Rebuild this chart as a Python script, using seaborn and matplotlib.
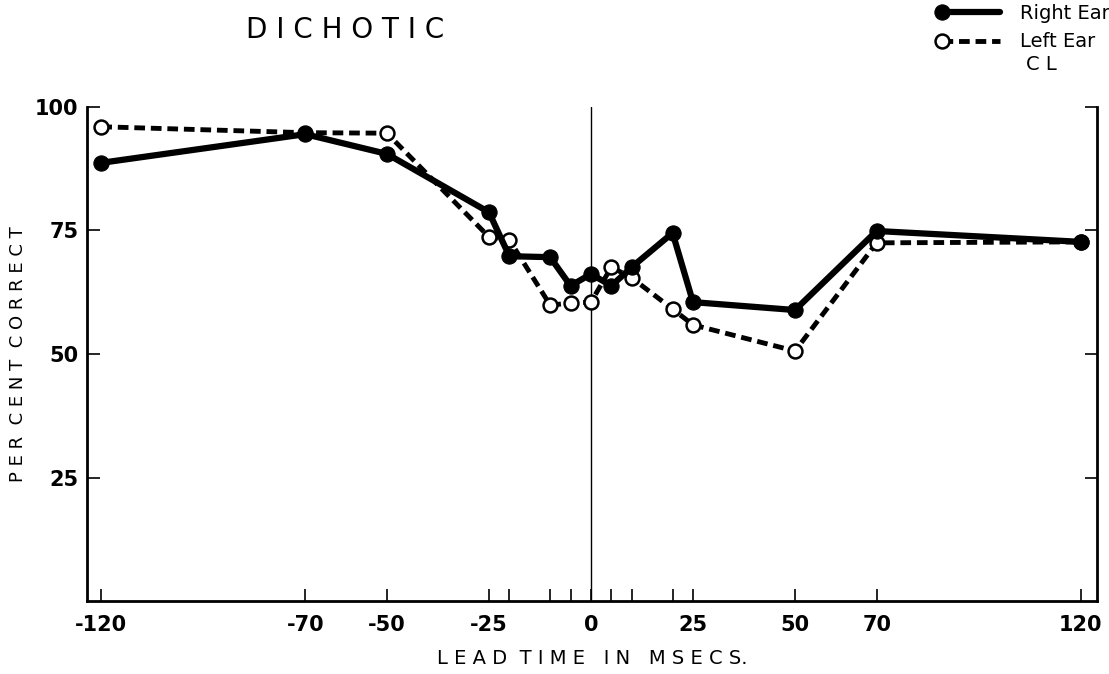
import pandas as pd
import seaborn as sns
import matplotlib.pyplot as plt
from matplotlib.lines import Line2D
from matplotlib.legend_handler import HandlerLine2D

# data
lead_time = [-120, -70, -50, -25, -20, -10, -5, 0, 5, 10, 20, 25, 50, 70, 120]
right_ear = [88.7, 94.5, 90.5, 78.7, 69.8, 69.6, 63.8, 66.2, 63.8, 67.6, 74.5, 60.5, 58.9, 74.9, 72.7]
left_ear = [96.0, 94.8, 94.7, 73.7, 73.1, 59.9, 60.3, 60.5, 67.6, 65.4, 59.1, 55.9, 50.6, 72.5, 72.7]

major_ticks = [-120, -70, -50, -25, 0, 25, 50, 70, 120]
minor_ticks = [-20, -10, -5, 5, 10, 20]
y_ticks = [25, 50, 75, 100]

df = pd.DataFrame({"lead": lead_time, "Right Ear": right_ear, "Left Ear": left_ear})


# legend handle with the marker at the left end of the line, as in the original
class LeftMarker(HandlerLine2D):
    def create_artists(self, *args, **kwargs):
        artists = super().create_artists(*args, **kwargs)
        for a in artists:
            a.set_markevery([0])
        return artists


sns.set_style("ticks")
plt.rcParams["font.family"] = ["DejaVu Sans"]
plt.rcParams["text.color"] = "black"

fig = plt.figure(figsize=(11.09, 6.74), dpi=100)
ax = fig.add_axes([87 / 1109, 1 - 601 / 674, (1097 - 87) / 1109, (601 - 107) / 674])

sns.lineplot(data=df, x="lead", y="Left Ear", ax=ax, color="black", lw=3.5,
             linestyle=(0, (2.2, 1.2)), marker="o", markersize=10,
             markerfacecolor="white", markeredgecolor="black", markeredgewidth=1.8,
             label="Left Ear", zorder=3)
sns.lineplot(data=df, x="lead", y="Right Ear", ax=ax, color="black", lw=4.5,
             marker="o", markersize=11, markerfacecolor="black", markeredgecolor="black",
             label="Right Ear", zorder=4)

ax.axvline(0, color="black", lw=1, zorder=1)

ax.set_xlim(-123.5, 124)
ax.set_ylim(0, 100)
ax.set_xticks(major_ticks)
ax.set_xticks(minor_ticks, minor=True)
ax.set_xticklabels([str(t) for t in major_ticks], fontweight="bold", fontsize=15)
ax.set_yticks(y_ticks)
ax.set_yticklabels([str(t) for t in y_ticks], fontweight="bold", fontsize=15)
ax.tick_params(axis="x", which="both", direction="in", length=9, width=1.2, pad=10,
               colors="black")
ax.tick_params(axis="y", direction="in", length=9, width=1.2, pad=6, right=True,
               colors="black")

for side in ["left", "bottom", "right"]:
    ax.spines[side].set_linewidth(2)
    ax.spines[side].set_color("black")
ax.spines["top"].set_visible(False)

ax.set_xlabel("L E A D  T I M E   I N   M S E C S.", fontsize=14, labelpad=10, color="black")
ax.set_ylabel("P E R  C E N T  C O R R E C T", fontsize=13, labelpad=6, color="black")

fig.text(345 / 1109, 1 - 30 / 674, "D I C H O T I C", fontsize=20, ha="center", va="center")

handles, labels = ax.get_legend_handles_labels()
order = [labels.index("Right Ear"), labels.index("Left Ear")]
ax.legend([handles[i] for i in order], [labels[i] for i in order],
          loc="upper right", bbox_to_anchor=(1.02, 1.225), frameon=False,
          fontsize=14, handlelength=3, handletextpad=1.0, borderaxespad=0,
          numpoints=1, handler_map={Line2D: LeftMarker()})
fig.text(1026 / 1109, 1 - 64 / 674, "C L", fontsize=14, ha="left", va="center")

fig.savefig("out.png", dpi=100)
